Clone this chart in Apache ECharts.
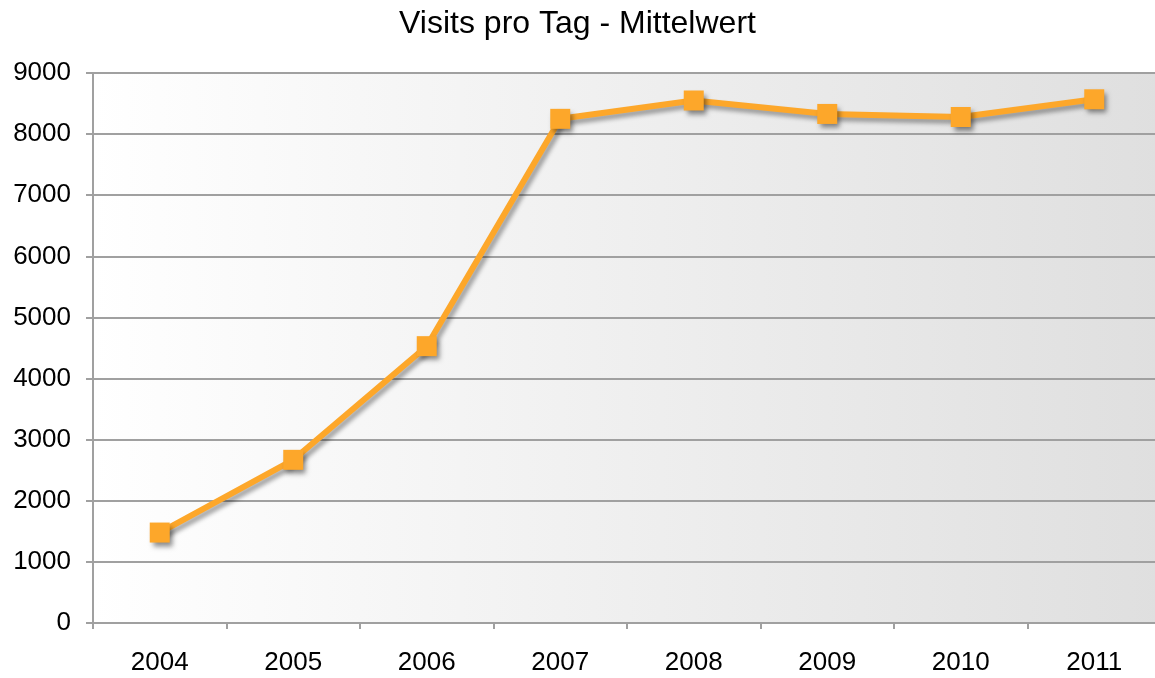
<!DOCTYPE html>
<html>
<head>
<meta charset="utf-8">
<script src="https://cdn.jsdelivr.net/npm/echarts@6/dist/echarts.min.js"></script>
<style>
  html, body { margin: 0; padding: 0; background: #fff; }
  #chart { width: 1155px; height: 678px; }
</style>
</head>
<body>
<div id="chart"></div>
<script>
// Jahre und Mittelwerte
const years = ['2004', '2005', '2006', '2007', '2008', '2009', '2010', '2011'];
const visits = [1480, 2670, 4530, 8250, 8550, 8330, 8280, 8570];
const yTicks = [0, 1000, 2000, 3000, 4000, 5000, 6000, 7000, 8000, 9000];

const chart = echarts.init(document.getElementById('chart'));

const option = {
  animation: false,
  textStyle: { fontFamily: 'Liberation Sans, Arial, sans-serif' },
  title: {
    text: 'Visits pro Tag - Mittelwert',
    left: 'center',
    top: 3,
    textStyle: { fontSize: 32, fontWeight: 'normal', color: '#000' }
  },
  grid: {
    left: 93,
    width: 1068,
    top: 73,
    bottom: 55,
    outerBoundsMode: 'none',
    containLabel: false,
    show: true,
    borderWidth: 0,
    // Hintergrund: links weiss, rechts hellgrau
    backgroundColor: new echarts.graphic.LinearGradient(0, 0, 1, 0, [
      { offset: 0, color: '#ffffff' },
      { offset: 1, color: '#dfdfdf' }
    ])
  },
  xAxis: {
    type: 'category',
    data: years,
    boundaryGap: true,
    axisLine: { lineStyle: { color: '#a0a0a0', width: 2 } },
    axisTick: { show: true, length: 6, lineStyle: { color: '#a0a0a0', width: 2 } },
    axisLabel: { color: '#000', fontSize: 26, margin: 27 }
  },
  yAxis: {
    type: 'value',
    min: yTicks[0],
    max: yTicks[yTicks.length - 1],
    interval: 1000,
    axisLine: { show: true, lineStyle: { color: '#a0a0a0', width: 2 } },
    axisTick: { show: true, length: 7, lineStyle: { color: '#a0a0a0', width: 2 } },
    axisLabel: { color: '#000', fontSize: 26, margin: 22, formatter: v => String(v) },
    splitLine: { lineStyle: { color: '#a0a0a0', width: 2 } }
  },
  series: [{
    type: 'line',
    data: visits,
    symbol: 'rect',
    symbolSize: 20,
    lineStyle: {
      color: '#fda72a',
      width: 6,
      shadowColor: 'rgba(0,0,0,0.35)',
      shadowBlur: 4,
      shadowOffsetX: 3,
      shadowOffsetY: 4
    },
    itemStyle: {
      color: '#fda72a',
      shadowColor: 'rgba(0,0,0,0.45)',
      shadowBlur: 5,
      shadowOffsetX: 3,
      shadowOffsetY: 4
    }
  }]
};

chart.setOption(option);
</script>
</body>
</html>
